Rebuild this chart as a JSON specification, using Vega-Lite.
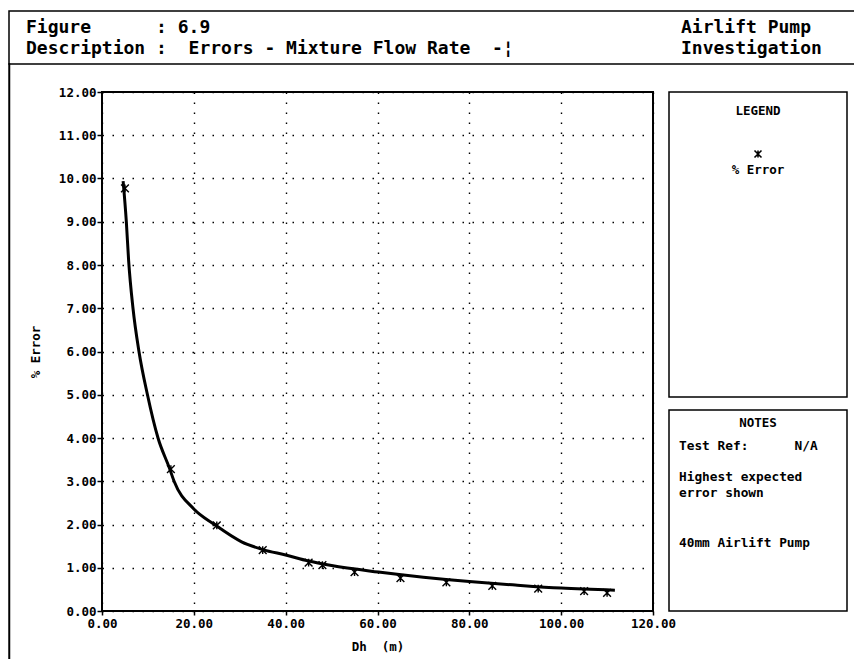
{
  "$schema": "https://vega.github.io/schema/vega-lite/v6.json",
  "background": "white",
  "padding": {"left": 8, "top": 10, "right": 0, "bottom": 0},
  "bounds": "flush",
  "spacing": 0,
  "config": {
    "view": {"stroke": "black", "strokeWidth": 1.5},
    "text": {"font": "DejaVu Sans Mono", "fontWeight": "bold", "fill": "black"}
  },
  "datasets": {
    "header": [
      {"row": 1, "left": "Figure\u00a0\u00a0\u00a0\u00a0\u00a0\u00a0:\u00a06.9", "right": "Airlift\u00a0Pump"},
      {"row": 2, "left": "Description\u00a0:\u00a0\u00a0Errors\u00a0-\u00a0Mixture\u00a0Flow\u00a0Rate\u00a0\u00a0-¦", "right": "Investigation"}
    ],
    "curve": [
      {"dh": 4.6, "err": 9.94},
      {"dh": 5.3, "err": 9.0},
      {"dh": 5.8, "err": 8.1},
      {"dh": 6.75, "err": 7.0},
      {"dh": 8.05, "err": 6.0},
      {"dh": 9.9, "err": 5.0},
      {"dh": 12.2, "err": 4.0},
      {"dh": 14.7, "err": 3.3},
      {"dh": 15.7, "err": 3.0},
      {"dh": 19.9, "err": 2.37},
      {"dh": 24.5, "err": 2.0},
      {"dh": 30.4, "err": 1.6},
      {"dh": 35.0, "err": 1.42},
      {"dh": 40.2, "err": 1.29},
      {"dh": 44.8, "err": 1.16},
      {"dh": 50.0, "err": 1.05},
      {"dh": 60.2, "err": 0.9},
      {"dh": 70.0, "err": 0.78},
      {"dh": 80.0, "err": 0.68},
      {"dh": 90.0, "err": 0.6},
      {"dh": 100.0, "err": 0.53},
      {"dh": 111.7, "err": 0.48}
    ],
    "markers": [
      {"dh": 5, "err": 9.77, "series": "% Error"},
      {"dh": 15, "err": 3.28, "series": "% Error"},
      {"dh": 25, "err": 1.98, "series": "% Error"},
      {"dh": 35, "err": 1.41, "series": "% Error"},
      {"dh": 45, "err": 1.12, "series": "% Error"},
      {"dh": 48, "err": 1.06, "series": "% Error"},
      {"dh": 55, "err": 0.9, "series": "% Error"},
      {"dh": 65, "err": 0.76, "series": "% Error"},
      {"dh": 75, "err": 0.66, "series": "% Error"},
      {"dh": 85, "err": 0.58, "series": "% Error"},
      {"dh": 95, "err": 0.52, "series": "% Error"},
      {"dh": 105, "err": 0.46, "series": "% Error"},
      {"dh": 110, "err": 0.42, "series": "% Error"}
    ],
    "series": [{"series": "% Error"}],
    "legendTitle": [{"label": "LEGEND"}],
    "notesTitle": [{"label": "NOTES"}],
    "noteRef": [{"label": "Test\u00a0Ref:\u00a0\u00a0\u00a0\u00a0\u00a0\u00a0N/A"}],
    "noteError": [{"label": ["Highest\u00a0expected", "error\u00a0shown"]}],
    "notePump": [{"label": "40mm\u00a0Airlift\u00a0Pump"}]
  },
  "vconcat": [
    {
      "width": 846,
      "height": 53,
      "data": {"name": "header"},
      "transform": [{"fold": ["left", "right"], "as": ["side", "label"]}],
      "mark": {"type": "text", "align": "left", "baseline": "alphabetic", "fontSize": 18},
      "encoding": {
        "x": {"field": "side", "type": "nominal", "scale": {"type": "point", "domain": ["left", "right"], "range": [17, 672], "padding": 0}, "axis": null},
        "y": {"field": "row", "type": "ordinal", "scale": {"type": "point", "domain": [1, 2], "range": [22, 43], "padding": 0}, "axis": null},
        "text": {"field": "label"}
      }
    },
    {
      "bounds": "flush",
      "spacing": 92,
      "hconcat": [
        {
          "width": 0.5,
          "height": 595,
          "data": {"values": []},
          "mark": "point",
          "view": {"stroke": "black", "strokeWidth": 1.5}
        },
        {
          "bounds": "flush",
          "spacing": 27,
          "vconcat": [
            {
              "width": 551,
              "height": 0.01,
              "data": {"values": []},
              "mark": "point",
              "view": {"stroke": null}
            },
            {
              "bounds": "flush",
              "spacing": 16,
              "hconcat": [
                {
                  "width": 551,
                  "height": 519,
                  "view": {"stroke": "black", "strokeWidth": 2},
                  "encoding": {
                    "x": {
                      "field": "dh",
                      "type": "quantitative",
                      "title": "Dh\u00a0\u00a0(m)",
                      "scale": {"domain": [0, 120], "nice": false},
                      "axis": {
                        "values": [0, 20, 40, 60, 80, 100, 120],
                        "format": ".2f",
                        "domain": false,
                        "grid": true,
                        "gridColor": "black",
                        "gridOpacity": 1,
                        "gridDash": [1.5, 8.5],
                        "gridWidth": 1.4,
                        "tickColor": "black",
                        "tickSize": 4,
                        "tickWidth": 1.5,
                        "labelFont": "DejaVu Sans Mono",
                        "labelFontWeight": "bold",
                        "labelFontSize": 12.5,
                        "labelColor": "black",
                        "labelPadding": 2,
                        "labelFlush": false,
                        "labelOverlap": false,
                        "titleFont": "DejaVu Sans Mono",
                        "titleFontWeight": "bold",
                        "titleFontSize": 12.5,
                        "titleColor": "black",
                        "titlePadding": 11
                      }
                    },
                    "y": {
                      "field": "err",
                      "type": "quantitative",
                      "title": "%\u00a0Error",
                      "scale": {"domain": [0, 12], "nice": false},
                      "axis": {
                        "values": [0, 1, 2, 3, 4, 5, 6, 7, 8, 9, 10, 11, 12],
                        "format": ".2f",
                        "domain": false,
                        "grid": true,
                        "gridColor": "black",
                        "gridOpacity": 1,
                        "gridDash": [1.5, 8.5],
                        "gridWidth": 1.4,
                        "tickColor": "black",
                        "tickSize": 5,
                        "tickWidth": 1.5,
                        "labelFont": "DejaVu Sans Mono",
                        "labelFontWeight": "bold",
                        "labelFontSize": 12.5,
                        "labelColor": "black",
                        "labelPadding": 1,
                        "labelFlush": false,
                        "labelOverlap": false,
                        "titleFont": "DejaVu Sans Mono",
                        "titleFontWeight": "bold",
                        "titleFontSize": 12.5,
                        "titleColor": "black",
                        "titlePadding": 16
                      }
                    }
                  },
                  "layer": [
                    {
                      "data": {"name": "curve"},
                      "mark": {"type": "line", "color": "black", "strokeWidth": 3, "interpolate": "monotone"}
                    },
                    {
                      "data": {"name": "markers"},
                      "mark": {"type": "point", "shape": "M-1,-1L1,1M-1,1L1,-1M0,-1L0,1", "size": 60, "filled": false, "stroke": "black", "strokeWidth": 1.4, "opacity": 1}
                    }
                  ]
                },
                {
                  "bounds": "flush",
                  "spacing": 13,
                  "vconcat": [
                    {
                      "width": 178,
                      "height": 305,
                      "view": {"stroke": "black", "strokeWidth": 1.5},
                      "layer": [
                        {
                          "data": {"name": "legendTitle"},
                          "mark": {"type": "text", "x": 89, "y": 19, "align": "center", "baseline": "middle", "fontSize": 12.5},
                          "encoding": {"text": {"field": "label"}}
                        },
                        {
                          "data": {"name": "series"},
                          "mark": {"type": "point", "x": 89, "y": 62, "shape": "M-1,-1L1,1M-1,1L1,-1M0,-1L0,1", "size": 49, "filled": false, "stroke": "black", "strokeWidth": 1.6, "opacity": 1},
                          "encoding": {}
                        },
                        {
                          "data": {"name": "series"},
                          "mark": {"type": "text", "x": 89, "y": 78, "align": "center", "baseline": "middle", "fontSize": 12.5},
                          "encoding": {"text": {"field": "series"}}
                        }
                      ]
                    },
                    {
                      "width": 178,
                      "height": 201,
                      "view": {"stroke": "black", "strokeWidth": 1.5},
                      "layer": [
                        {
                          "data": {"name": "notesTitle"},
                          "mark": {"type": "text", "x": 89, "y": 13, "align": "center", "baseline": "middle", "fontSize": 12.5},
                          "encoding": {"text": {"field": "label"}}
                        },
                        {
                          "data": {"name": "noteRef"},
                          "mark": {"type": "text", "x": 10, "y": 39.5, "align": "left", "baseline": "alphabetic", "fontSize": 12.8},
                          "encoding": {"text": {"field": "label"}}
                        },
                        {
                          "data": {"name": "noteError"},
                          "mark": {"type": "text", "x": 10, "y": 71, "align": "left", "baseline": "alphabetic", "fontSize": 12.8, "lineHeight": 16},
                          "encoding": {"text": {"field": "label"}}
                        },
                        {
                          "data": {"name": "notePump"},
                          "mark": {"type": "text", "x": 10, "y": 137, "align": "left", "baseline": "alphabetic", "fontSize": 12.8},
                          "encoding": {"text": {"field": "label"}}
                        }
                      ]
                    }
                  ]
                }
              ]
            }
          ]
        }
      ]
    }
  ]
}
